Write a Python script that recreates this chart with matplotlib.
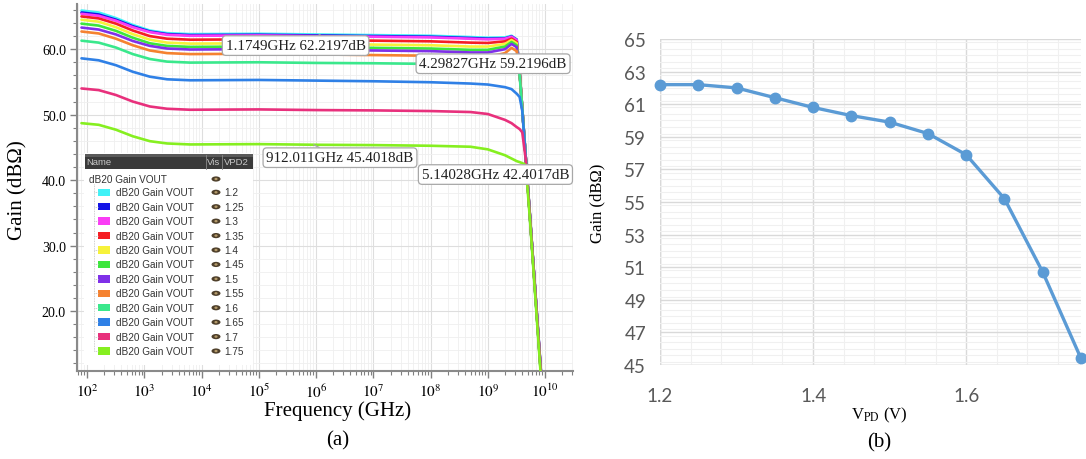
import numpy as np
import matplotlib
matplotlib.use('Agg')
import matplotlib.pyplot as plt
from matplotlib.patches import Rectangle, Ellipse
from matplotlib.ticker import FixedLocator, FixedFormatter, MultipleLocator, NullFormatter

plt.rcParams['mathtext.fontset'] = 'stix'

# ---------------- data: panel (a) ----------------
freq_hz = [80, 160, 320, 630, 1250, 2500, 6300, 1e5, 1e6, 1e7, 1e8, 5e8, 1e9,
           2e9, 2.6e9, 3.2e9, 3.6e9, 4e9, 4.6e9, 5.5e9, 8.3e9, 9.6e9]
vpd_labels = ['1.2', '1.25', '1.3', '1.35', '1.4', '1.45', '1.5', '1.55',
              '1.6', '1.65', '1.7', '1.75']
gain_120 = [65.9, 65.6, 64.75, 63.7, 62.85, 62.45, 62.3, 62.35, 62.25, 62.15, 62.05, 61.85, 61.75,
            61.8, 62.05, 61.5, 56.5, 51.0, 43.5, 34.0, 11.8, 4.0]
gain_125 = [65.6, 65.3, 64.5, 63.5, 62.7, 62.3, 62.15, 62.2, 62.1, 62.0, 61.9, 61.7, 61.6,
            61.65, 61.95, 61.45, 56.5, 51.0, 43.5, 34.0, 11.9, 4.1]
gain_130 = [65.4, 65.1, 64.35, 63.35, 62.6, 62.2, 62.05, 62.1, 62.0, 61.9, 61.8, 61.6, 61.5,
            61.6, 61.9, 61.4, 56.5, 51.0, 43.5, 34.0, 11.8, 4.0]
gain_135 = [65.0, 64.7, 63.9, 62.85, 62.0, 61.6, 61.45, 61.5, 61.4, 61.3, 61.2, 61.0, 60.95,
            61.2, 61.6, 61.1, 56.5, 51.0, 43.5, 34.0, 11.7, 4.0]
gain_140 = [64.5, 64.2, 63.35, 62.3, 61.45, 61.0, 60.85, 60.9, 60.8, 60.7, 60.6, 60.4, 60.4,
            60.8, 61.4, 60.9, 56.5, 51.0, 43.5, 34.0, 11.7, 4.0]
gain_145 = [63.9, 63.6, 62.8, 61.75, 60.9, 60.5, 60.35, 60.4, 60.3, 60.2, 60.1, 59.9, 59.9,
            60.4, 61.1, 60.6, 56.5, 51.0, 43.5, 33.8, 11.5, 3.9]
gain_150 = [63.3, 63.0, 62.25, 61.25, 60.5, 60.1, 59.95, 60.0, 59.9, 59.8, 59.7, 59.5, 59.5,
            60.0, 60.8, 60.3, 56.5, 51.0, 43.5, 34.0, 11.6, 4.0]
gain_155 = [62.7, 62.4, 61.6, 60.6, 59.8, 59.4, 59.25, 59.3, 59.2, 59.1, 59.0, 58.8, 58.8,
            59.4, 60.2, 59.7, 56.3, 51.0, 43.5, 34.0, 11.6, 4.0]
gain_160 = [61.3, 61.0, 60.25, 59.25, 58.5, 58.1, 57.95, 58.0, 57.9, 57.85, 57.75, 57.6, 57.55,
            57.8, 58.3, 57.9, 56.0, 51.0, 43.5, 33.8, 11.4, 3.9]
gain_165 = [58.6, 58.3, 57.55, 56.55, 55.8, 55.4, 55.25, 55.3, 55.2, 55.1, 54.95, 54.75, 54.6,
            54.2, 53.9, 53.2, 52.7, 50.6, 43.6, 34.2, 12.0, 4.2]
gain_170 = [54.0, 53.75, 53.0, 52.0, 51.25, 50.9, 50.75, 50.8, 50.7, 50.65, 50.55, 50.4, 50.1,
            49.2, 48.7, 48.1, 47.8, 47.3, 43.2, 34.0, 11.8, 4.0]
gain_175 = [48.7, 48.45, 47.7, 46.7, 45.95, 45.6, 45.45, 45.5, 45.4, 45.35, 45.25, 45.1, 44.7,
            43.8, 43.3, 42.9, 42.75, 42.6, 42.3, 33.5, 11.0, 3.5]
curves_a = [gain_120, gain_125, gain_130, gain_135, gain_140, gain_145,
            gain_150, gain_155, gain_160, gain_165, gain_170, gain_175]
colors_a = ['#3ff2f7', '#1414e6', '#fa3cf5', '#f51e24', '#f7f23a', '#3ce63c',
            '#7f30e8', '#f58230', '#3ae88c', '#2f80e6', '#e8307c', '#86ef20']

marker_freq = [1.1749e6, 4.29827e9, 912.011e3, 5.14028e9]
marker_gain = [62.2197, 59.2196, 45.4018, 42.4017]
marker_text = ['1.1749GHz 62.2197dB', '4.29827GHz 59.2196dB',
               '912.011GHz 45.4018dB', '5.14028GHz 42.4017dB']

# ---------------- data: panel (b) ----------------
vpd = [1.2, 1.25, 1.3, 1.35, 1.4, 1.45, 1.5, 1.55, 1.6, 1.65, 1.7, 1.75]
gain_b = [62.2, 62.2, 62.0, 61.4, 60.8, 60.3, 59.9, 59.2, 57.9, 55.2, 50.7, 45.4]

W, H = 1086, 460
fig = plt.figure(figsize=(W / 100, H / 100), dpi=100)

SERIF = ['Liberation Serif', 'DejaVu Serif']

def fbox(x0, y0, x1, y1):
    return [x0 / W, 1 - y1 / H, (x1 - x0) / W, (y1 - y0) / H]

# ================= panel (a) =================
ax = fig.add_axes(fbox(77, 5, 573, 372))
for g, c in zip(curves_a, colors_a):
    ax.plot(freq_hz, g, color=c, lw=1.9, solid_capstyle='round', zorder=3)
ax.set_xscale('log')
ax.set_xlim(66.8, 3.08e10)
ax.set_ylim(10.85, 66.9)

dec = list(range(2, 11))
ax.xaxis.set_major_locator(FixedLocator([10.0 ** d for d in dec]))
ax.xaxis.set_major_formatter(FixedFormatter([r'$10^{%d}$' % d for d in dec]))
minors = [m * 10.0 ** d for d in range(1, 11) for m in range(2, 10)]
ax.xaxis.set_minor_locator(FixedLocator(minors))
ax.xaxis.set_minor_formatter(NullFormatter())
ax.yaxis.set_major_locator(MultipleLocator(10))
ax.yaxis.set_minor_locator(MultipleLocator(2))
ax.yaxis.set_major_formatter(plt.FuncFormatter(lambda v, p: '%.1f' % v))
ax.tick_params(axis='both', which='major', length=5, width=1, color='#808080',
               labelsize=10, pad=3)
ax.tick_params(axis='both', which='minor', length=3, width=0.8, color='#808080')
for lab in ax.get_yticklabels():
    lab.set_fontfamily(SERIF)
for lab in ax.get_xticklabels():
    lab.set_fontsize(11)
ax.grid(True, which='major', color='#dedede', lw=0.8, zorder=0)
ax.grid(True, which='minor', color='#efefef', lw=0.6, zorder=0)
for s in ['top', 'right']:
    ax.spines[s].set_visible(False)
for s in ['left', 'bottom']:
    ax.spines[s].set_color('#8a8a8a')
    ax.spines[s].set_linewidth(1.5)

offsets = [(-17.6, -7.9), (-22.3, -6.8), (18.9, -9.3), (-23.8, -7.3)]
for f, g, t, off in zip(marker_freq, marker_gain, marker_text, offsets):
    ax.annotate(t, xy=(f, g), xytext=off, textcoords='offset points',
                ha='center', va='center', fontsize=10.8, family=SERIF, color='#202020',
                bbox=dict(boxstyle='round,pad=0.22,rounding_size=0.25', fc='white',
                          ec='#a8a8a8', lw=0.9),
                arrowprops=dict(arrowstyle='-', color='#a8a8a8', lw=0.9,
                                shrinkA=0, shrinkB=0),
                zorder=6)

fig.text(18 / W, 1 - 190 / H, 'Gain (dBΩ)', rotation=90, ha='center', va='center',
         fontsize=15, family=SERIF)
fig.text(338 / W, 1 - 411 / H, 'Frequency (GHz)', ha='center', va='center',
         fontsize=15, family=SERIF)
fig.text(338 / W, 1 - 441 / H, '(a)', ha='center', va='center',
         fontsize=15, family=SERIF)

# ---- simulator-style legend panel ----
lx0, lx1, ly0, ly1 = 84, 253, 154, 366
lg = fig.add_axes(fbox(lx0, ly0, lx1, ly1))
lg.set_xlim(lx0, lx1)
lg.set_ylim(ly1, ly0)
lg.axis('off')
lg.add_patch(Rectangle((lx0, ly0), lx1 - lx0, ly1 - ly0, fc='white', ec='none'))
lg.add_patch(Rectangle((lx0 + 1, 155), lx1 - lx0 - 1, 15, fc='#3a3a3a', ec='none'))
lg.add_patch(Rectangle((lx0 + 1, 155), lx1 - lx0 - 1, 3, fc='#5a5a5a', ec='none'))
LEG_FONT = ['Liberation Sans', 'DejaVu Sans']
lg.text(86, 163, 'Name', color='#c8c8c8', fontsize=6.8, va='center', family=LEG_FONT)
lg.text(207, 163, 'Vis', color='#c8c8c8', fontsize=6.8, va='center', family=LEG_FONT)
lg.text(224, 163, 'VPD2', color='#c8c8c8', fontsize=6.8, va='center', family=LEG_FONT)
lg.plot([205.5, 205.5], [156, 170], color='#8a8a8a', lw=0.6)
lg.plot([221.5, 221.5], [156, 170], color='#8a8a8a', lw=0.6)


def eye(x, y):
    lg.add_patch(Ellipse((x, y), 9, 5.2, fc='#4e3f2a', ec='none'))
    lg.add_patch(Ellipse((x, y), 3.2, 2.4, fc='#b49a6a', ec='none'))


lg.text(89, 180, 'dB20 Gain VOUT', color='#333333', fontsize=7.2, va='center', family=LEG_FONT)
eye(216, 180)
row0, dy = 193.3, 14.43
ys = [row0 + i * dy for i in range(len(vpd_labels))]
lg.plot([93.5, 93.5], [185, ys[-1]], color='#c0c0c0', lw=0.6, ls=(0, (1, 1)))
for y, lab, c in zip(ys, vpd_labels, colors_a):
    lg.plot([93.5, 97.5], [y, y], color='#c0c0c0', lw=0.6, ls=(0, (1, 1)))
    lg.add_patch(Rectangle((98, y - 3.7), 12, 7.4, fc=c, ec='none'))
    lg.text(116, y, 'dB20 Gain VOUT', color='#333333', fontsize=7.2, va='center',
            family=LEG_FONT)
    eye(216, y)
    lg.text(224, y, lab, color='#333333', fontsize=7.2, va='center', family=LEG_FONT)

# ================= panel (b) =================
bx = fig.add_axes(fbox(660, 40, 1081, 366))
bx.plot(vpd, gain_b, color='#5b9bd5', lw=2.4, marker='o', ms=7.5,
        clip_on=False, zorder=3)
bx.set_xlim(1.2, 1.75)
bx.set_ylim(45, 65)
bx.xaxis.set_major_locator(FixedLocator([1.2, 1.4, 1.6]))
bx.xaxis.set_major_formatter(FixedFormatter(['1.2', '1.4', '1.6']))
bx.xaxis.set_minor_locator(MultipleLocator(0.04))
bx.yaxis.set_major_locator(MultipleLocator(2))
bx.yaxis.set_minor_locator(MultipleLocator(0.4))
bx.set_yticks(list(range(45, 66, 2)))
bx.tick_params(axis='both', which='both', length=0, labelsize=13.5, labelcolor='#595959')
bx.tick_params(axis='x', pad=16)
bx.tick_params(axis='y', pad=10)
for lab in bx.get_xticklabels() + bx.get_yticklabels():
    lab.set_fontfamily(['Lato', 'DejaVu Sans'])
bx.grid(True, which='major', color='#d9d9d9', lw=1.0, zorder=0)
bx.grid(True, which='minor', color='#f0f0f0', lw=0.8, zorder=0)
for s in bx.spines.values():
    s.set_visible(False)
bx.axhline(45, color='#d0d0d0', lw=1.0, zorder=1)
bx.axvline(1.2, color='#d0d0d0', lw=1.0, zorder=1)

fig.text(597 / W, 1 - 203 / H, 'Gain (dBΩ)', rotation=90, ha='center', va='center',
         fontsize=12, family=SERIF)
fig.text(879 / W, 1 - 415 / H, r'V$_{\rm PD}$ (V)', ha='center', va='center',
         fontsize=12, family=SERIF)
fig.text(879 / W, 1 - 443 / H, '(b)', ha='center', va='center',
         fontsize=15, family=SERIF)

fig.savefig('out.png', dpi=100)
